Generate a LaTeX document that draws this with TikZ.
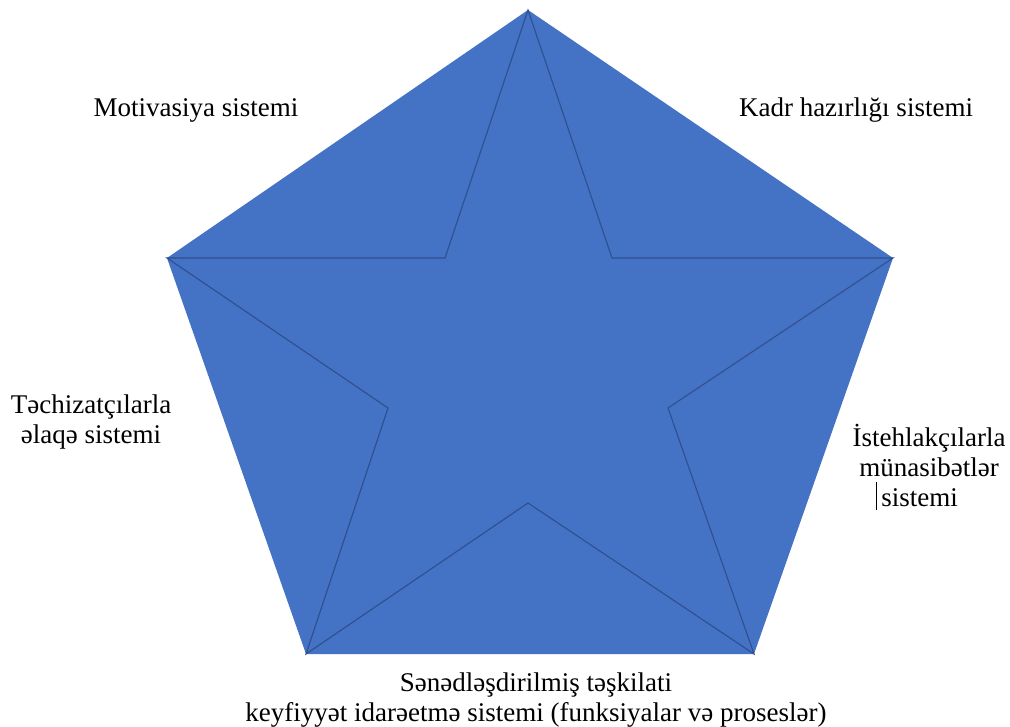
\documentclass[tikz,border=0pt]{standalone}
\usepackage{fontspec}
\setmainfont{LiberationSerif}[Extension=.ttf,UprightFont=*-Regular,BoldFont=*-Bold]
\definecolor{pfill}{HTML}{4472C4}
\definecolor{pline}{HTML}{2F4F8F}
\begin{document}
\begin{tikzpicture}[x=1pt,y=-1pt,
  lbl/.style={font=\fontsize{27}{30}\selectfont,align=center,inner sep=0pt,text=black},
  starline/.style={draw=pline,line width=1.1pt,line join=miter}]
\useasboundingbox (0,0) rectangle (1010,727);
\coordinate (T) at (528,10);
\coordinate (R) at (893,258);
\coordinate (BR) at (754,654);
\coordinate (BL) at (306,654);
\coordinate (L) at (167,258);
\coordinate (i1) at (445,258);
\coordinate (i2) at (612,258);
\coordinate (i3) at (668,408);
\coordinate (i4) at (528,503);
\coordinate (i5) at (388,408);
\fill[pfill] (T) -- (R) -- (BR) -- (BL) -- (L) -- cycle;
\draw[starline] (T) -- (i2) -- (R) -- (i3) -- (BR) -- (i4) -- (BL) -- (i5) -- (L) -- (i1) -- cycle;
\node[lbl] (mot) at (196,110) {Motivasiya sistemi};
\node[lbl] (kad) at (856,110) {Kadr hazırlığı sistemi};
\node[lbl] (tec) at (91,422) {Təchizatçılarla\\əlaqə sistemi};
\node[lbl] (ist) at (929,467) {İstehlakçılarla\\münasibətlər\\\hspace*{0.3em}\rule[-0.15em]{0.06em}{1.05em}\hspace{0.15em}sistemi\hspace*{1.2em}};
\node[lbl] (sen) at (536,700) {Sənədləşdirilmiş təşkilati\\keyfiyyət idarəetmə sistemi (funksiyalar və proseslər)};
\end{tikzpicture}
\end{document}
